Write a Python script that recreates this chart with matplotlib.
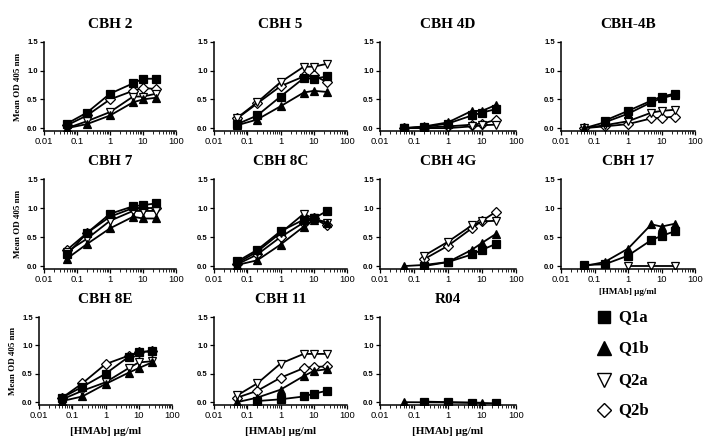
"""Dose-response panels: mean OD 405 nm vs HMAb concentration for four genotypes."""

import numpy as np
import matplotlib.pyplot as plt
from matplotlib.ticker import LogLocator, NullFormatter, FixedLocator

# Concentrations (ug/ml)
conc = [0.05, 0.2, 1, 5, 10, 25]
genotypes = ["Q1a", "Q1b", "Q2a", "Q2b"]
nan = np.nan

# Panel data: Q1a, Q1b, Q2a, Q2b
cbh2 = [[0.08, 0.27, 0.60, 0.78, 0.86, 0.86],
        [0.00, 0.07, 0.22, 0.45, 0.50, 0.53],
        [0.00, 0.12, 0.28, 0.55, 0.55, 0.60],
        [0.05, 0.22, 0.50, 0.65, 0.70, 0.68]]
cbh5 = [[0.07, 0.22, 0.55, 0.87, 0.86, 0.90],
        [0.05, 0.15, 0.38, 0.62, 0.65, 0.63],
        [0.18, 0.45, 0.80, 1.07, 1.07, 1.12],
        [0.17, 0.43, 0.73, 0.90, 0.92, 0.80]]
cbh4d = [[0.00, 0.02, 0.08, 0.22, 0.27, 0.33],
         [0.00, 0.03, 0.10, 0.30, 0.30, 0.40],
         [0.00, 0.00, 0.00, 0.03, 0.05, 0.06],
         [0.00, 0.01, 0.03, 0.06, 0.08, 0.14]]
cbh4b = [[nan, 0.13, 0.30, 0.48, 0.55, 0.60],
         [0.00, 0.10, 0.25, 0.45, 0.52, 0.58],
         [0.00, 0.05, 0.12, 0.27, 0.30, 0.32],
         [0.00, 0.03, 0.07, 0.17, 0.18, 0.20]]
cbh7 = [[0.20, 0.57, 0.90, 1.03, 1.05, 1.08],
        [0.13, 0.38, 0.65, 0.85, 0.82, 0.82],
        [0.25, 0.47, 0.78, 0.95, 0.95, 0.95],
        [0.28, 0.57, 0.85, 1.00, 1.00, 1.00]]
cbh8c = [[0.08, 0.28, 0.60, 0.80, 0.82, 0.95],
         [0.02, 0.10, 0.37, 0.68, 0.80, 0.75],
         [0.05, 0.25, 0.57, 0.90, 0.82, 0.75],
         [0.03, 0.20, 0.50, 0.75, 0.82, 0.70]]
cbh4g = [[nan, 0.00, 0.07, 0.20, 0.28, 0.38],
         [0.00, 0.02, 0.07, 0.28, 0.40, 0.55],
         [nan, 0.18, 0.42, 0.70, 0.77, 0.78],
         [nan, 0.12, 0.35, 0.65, 0.78, 0.93]]
cbh17 = [[0.02, 0.03, 0.18, 0.45, 0.52, 0.60],
         [0.00, 0.07, 0.30, 0.72, 0.68, 0.73],
         [nan, nan, 0.00, 0.00, nan, 0.00],
         [nan, nan, nan, nan, nan, nan]]
cbh8e = [[0.08, 0.27, 0.50, 0.80, 0.88, 0.90],
         [0.02, 0.10, 0.32, 0.52, 0.60, 0.70],
         [0.05, 0.20, 0.35, 0.60, 0.70, 0.72],
         [0.08, 0.33, 0.67, 0.82, 0.88, 0.90]]
cbh11 = [[nan, 0.02, 0.05, 0.10, 0.15, 0.20],
         [0.00, 0.08, 0.22, 0.46, 0.55, 0.58],
         [0.12, 0.33, 0.68, 0.85, 0.85, 0.85],
         [0.08, 0.20, 0.43, 0.60, 0.62, 0.63]]
r04 = [[nan, 0.01, 0.00, -0.01, nan, -0.02],
       [0.00, nan, nan, nan, -0.01, nan],
       [nan, nan, nan, nan, nan, nan],
       [nan, nan, nan, nan, nan, nan]]

titles = ["CBH 2", "CBH 5", "CBH 4D", "CBH-4B",
          "CBH 7", "CBH 8C", "CBH 4G", "CBH 17",
          "CBH 8E", "CBH 11", "R04"]
panels = [cbh2, cbh5, cbh4d, cbh4b, cbh7, cbh8c, cbh4g, cbh17, cbh8e, cbh11, r04]

# marker style per genotype
styles = {
    "Q1a": dict(marker="s", mfc="black", ms=5.5),
    "Q1b": dict(marker="^", mfc="black", ms=6.0),
    "Q2a": dict(marker="v", mfc="white", ms=6.0),
    "Q2b": dict(marker="D", mfc="white", ms=4.6),
}
draw_order = [3, 2, 1, 0]  # filled squares end up on top

W, H = 717, 443
fig = plt.figure(figsize=(W / 100, H / 100), dpi=100)

# pixel boxes: (left, right) per column, (top at 1.5, bottom at -0.05) per row
cols_px = [(44, 176), (214, 347), (380, 516), (561, 695)]
rows_px = [(42, 131), (179, 269), (317, 405)]

serif = "Liberation Serif"
sans = "Liberation Sans"

for i, (title, data) in enumerate(zip(titles, panels)):
    r, c = divmod(i, 4)
    x0, x1 = cols_px[c]
    if r == 2 and c == 0:
        x0, x1 = 39, 172
    yt, yb = rows_px[r]
    ax = fig.add_axes([x0 / W, 1 - yb / H, (x1 - x0) / W, (yb - yt) / H])

    for k in draw_order:
        g = genotypes[k]
        x = np.array(conc, dtype=float)
        y = np.array(data[k], dtype=float)
        ok = ~np.isnan(y)
        if not ok.any():
            continue
        ax.plot(x[ok], y[ok], color="black", lw=1.3, mec="black", mew=0.9,
                **styles[g])

    ax.set_xscale("log")
    ax.set_xlim(0.01, 100)
    ax.set_ylim(-0.05, 1.5)
    ax.yaxis.set_major_locator(FixedLocator([0.0, 0.5, 1.0, 1.5]))
    ax.set_yticklabels(["0.0", "0.5", "1.0", "1.5"], fontsize=5.5,
                       family=sans, fontweight="bold")
    ax.xaxis.set_minor_locator(LogLocator(base=10, subs=np.arange(2, 10), numticks=10))
    ax.xaxis.set_minor_formatter(NullFormatter())
    ax.set_xticks([0.01, 0.1, 1, 10, 100])
    ax.set_xticklabels(["0.01", "0.1", "1", "10", "100"], fontsize=6.8, family=sans)
    ax.tick_params(axis="both", which="major", direction="out", length=3,
                   width=0.9, pad=1.5)
    ax.tick_params(axis="x", which="minor", direction="out", length=1.8, width=0.6)
    for s in ["top", "right"]:
        ax.spines[s].set_visible(False)
    for s in ["left", "bottom"]:
        ax.spines[s].set_linewidth(1.1)
    ax.patch.set_alpha(0)

    ax.set_title(title, fontsize=11, family=serif, fontweight="bold", pad=10)
    if c == 0:
        ax.set_ylabel("Mean OD 405 nm", fontsize=6.5, family=serif,
                      fontweight="bold", labelpad=4)
    if r == 2 or title == "CBH 17":
        fs = 8 if r == 2 else 6.5
        ax.set_xlabel("[HMAb] \u00b5g/ml", fontsize=fs, family=serif,
                      fontweight="bold", labelpad=5 if r == 2 else 3)

# legend, drawn as markers plus text in figure pixel coordinates
leg_y = [317, 348, 380, 410]
lax = fig.add_axes([0, 0, 1, 1])
lax.set_xlim(0, W)
lax.set_ylim(H, 0)
lax.axis("off")
for g, y in zip(genotypes, leg_y):
    st = dict(styles[g])
    st["ms"] = st["ms"] * 1.65
    lax.plot([604], [y], color="black", lw=0, mec="black", mew=1.0, **st)
    lax.text(618, y, g, fontsize=12, family=serif, fontweight="bold",
             va="center", ha="left")

fig.savefig("out.png", dpi=100)
plt.close(fig)
